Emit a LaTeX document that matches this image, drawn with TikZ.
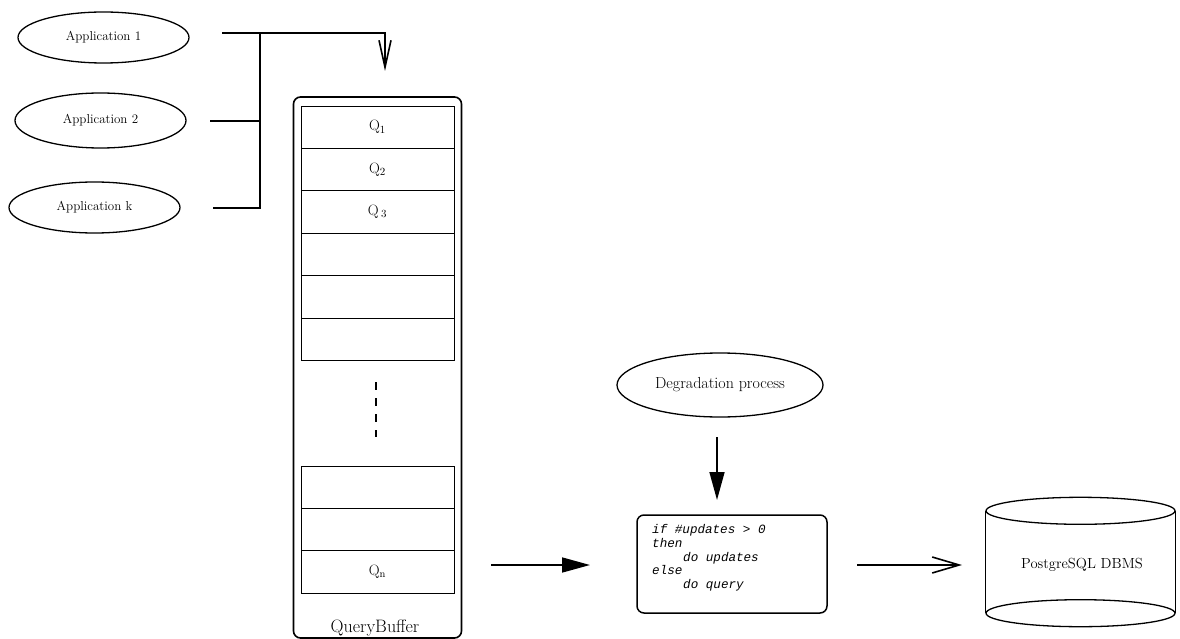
\documentclass[tikz,border=0pt]{standalone}
\usepackage{fontspec}
\newfontfamily\codefont{Liberation Mono}
\usetikzlibrary{shapes.geometric,arrows.meta}
\begin{document}
\begin{tikzpicture}[x=1pt,y=-1pt,
  app/.style={draw, ellipse, line width=1.3pt, minimum width=171pt, minimum height=51pt, inner sep=0pt, font=\fontsize{13}{15}\selectfont},
  wire/.style={line width=1.6pt},
  cell/.style={draw, line width=0.9pt, minimum width=153pt, minimum height=42.4pt, inner sep=0pt, font=\fontsize{15}{17}\selectfont},
  openhead/.style={-{Straight Barb[length=27pt,width=#1]}},
  fullhead/.style={-{Triangle[length=28pt,width=15pt]}}
]
\useasboundingbox (0,0) rectangle (1180,639);

% applications
\node[app] (app1) at (103.5,37.5) {Application 1};
\node[app, minimum height=55pt] (app2) at (100.5,120.5) {Application 2};
\node[app] (appk) at (94.5,207.5) {Application k};

\coordinate (a1) at (222,33);
\coordinate (a2) at (210,121);
\coordinate (ak) at (213,208);
\coordinate (j1) at (260,33);
\coordinate (j2) at (260,121);
\coordinate (jk) at (260,208);
\coordinate (turn) at (385,33);
\coordinate (qin) at (385,71);

\draw[wire] (a2) -- (j2);
\draw[wire] (ak) -- (jk) -- (j1);
\draw[wire, openhead=12pt] (a1) -- (turn) -- (qin);

% query buffer
\node[draw, rounded corners=7pt, line width=1.6pt, minimum width=168pt, minimum height=541pt, inner sep=0pt] (qb) at (377.5,367.5) {};
\node[cell] (c1) at (377.5,127.2) {Q$_1$};
\node[cell] (c2) at (377.5,169.6) {Q$_2$};
\node[cell] (c3) at (377.5,212.0) {Q\,$_3$};
\node[cell] (c4) at (377.5,254.4) {};
\node[cell] (c5) at (377.5,296.8) {};
\node[cell] (c6) at (377.5,339.2) {};
\node[cell] (c7) at (377.5,487.2) {};
\node[cell] (c8) at (377.5,529.6) {};
\node[cell] (c9) at (377.5,572.0) {Q$_\mathrm{n}$};
\coordinate (d1) at (376,382);
\coordinate (d2) at (376,437);
\draw[line width=1.6pt, dash pattern=on 8pt off 8pt] (d1) -- (d2);
\node[anchor=base, inner sep=0pt, font=\fontsize{18}{20}\selectfont] (qbl) at (375,632) {QueryBuffer};

% degradation
\node[draw, ellipse, line width=1.3pt, minimum width=206pt, minimum height=64pt, inner sep=0pt, font=\fontsize{16}{18}\selectfont] (deg) at (720,385) {Degradation process};
\coordinate (dg1) at (717,437);
\coordinate (dg2) at (717,500);
\draw[wire, fullhead] (dg1) -- (dg2);

% code box
\node[draw, rounded corners=7pt, line width=1.5pt, minimum width=190pt, minimum height=98pt] (code) at (732,564) {};
\node[anchor=north west, inner sep=0pt, align=left, font=\codefont\itshape\fontsize{12.6}{13.6}\selectfont] (codetxt) at (652,524.5)
  {if \#updates > 0\\then\\\hspace*{31pt}do updates\\else\\\hspace*{31pt}do query};

\coordinate (qo1) at (491,565);
\coordinate (qo2) at (590,565);
\draw[wire, fullhead] (qo1) -- (qo2);

\coordinate (co1) at (857,565);
\coordinate (co2) at (962,565);
\draw[wire, openhead=16pt] (co1) -- (co2);

% database
\node[minimum width=189pt, minimum height=102pt, inner sep=0pt] (db) at (1080.5,562) {};
\draw[line width=1.3pt] (db.north west) -- (db.south west) (db.north east) -- (db.south east);
\draw[line width=1.3pt] (db.north) ellipse [x radius=94.5pt, y radius=13.5pt];
\draw[line width=1.3pt] (db.south) ellipse [x radius=94.5pt, y radius=13.5pt];
\node[font=\fontsize{14.6}{16}\selectfont, inner sep=0pt] (dbtxt) at (1082,565) {PostgreSQL DBMS};
\end{tikzpicture}
\end{document}
